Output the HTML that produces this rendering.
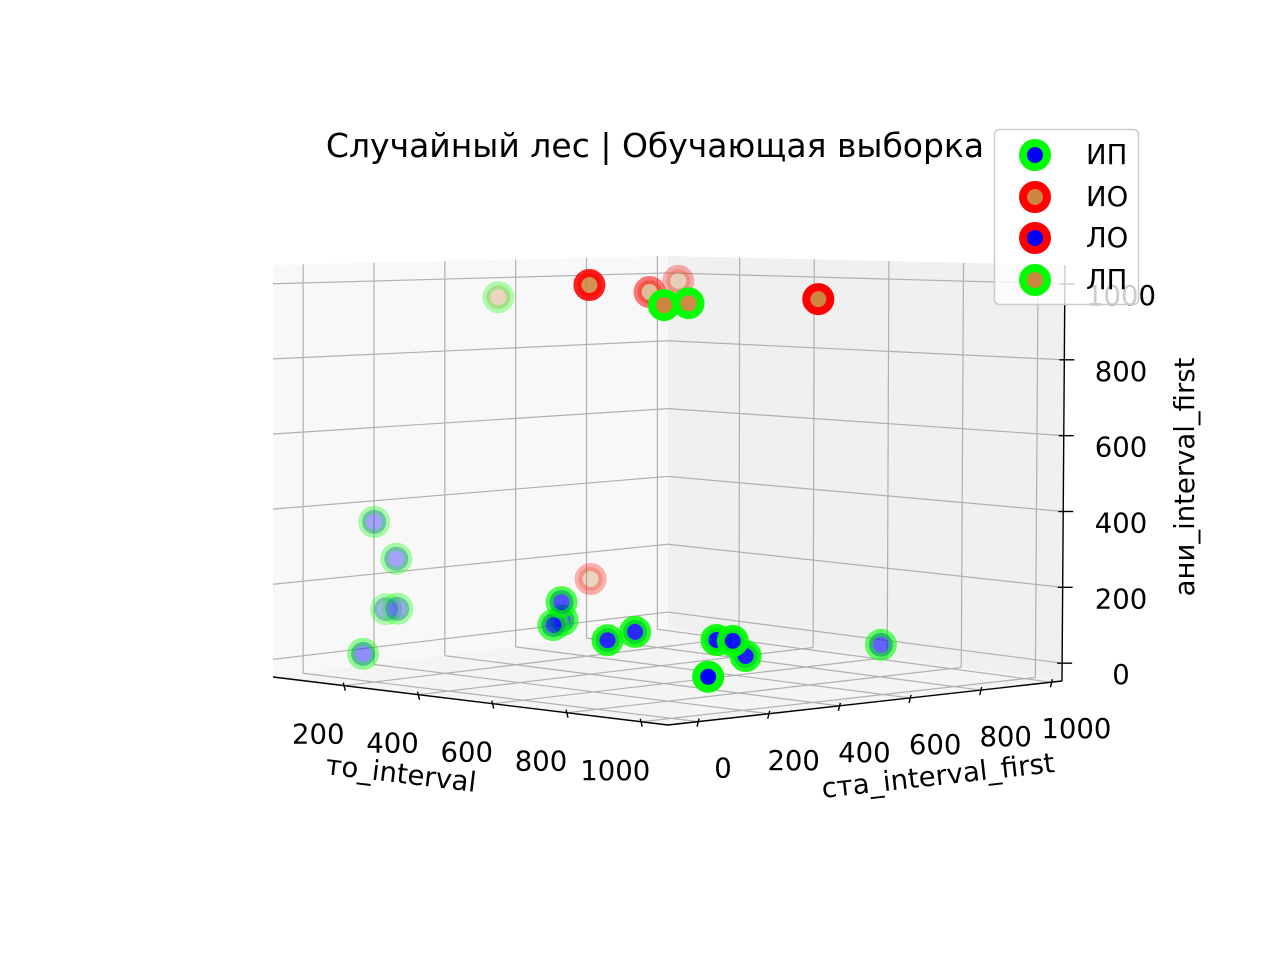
<!DOCTYPE html>
<html>
<head>
<meta charset="utf-8">
<style>
  html, body { margin:0; padding:0; background:#ffffff; }
  svg { display:block; font-family:"DejaVu Sans","Liberation Sans",sans-serif; }
</style>
</head>
<body>
<svg id="chart" width="1280" height="960" viewBox="0 0 1280 960" xmlns="http://www.w3.org/2000/svg">
  <rect x="0" y="0" width="1280" height="960" fill="#ffffff"/>
  <g id="panes"></g>
  <g id="grid"></g>
  <g id="axes"></g>
  <g id="points"></g>
  <g id="labels"></g>
  <text x="655" y="157" font-size="33" text-anchor="middle" fill="#000">Случайный лес | Обучающая выборка</text>
  <text x="0" y="0" font-size="27.5" text-anchor="middle" dominant-baseline="central" fill="#000" transform="translate(401,774) rotate(6.8)">то_interval</text>
  <text x="0" y="0" font-size="27.5" text-anchor="middle" dominant-baseline="central" fill="#000" transform="translate(938,776) rotate(-6.4)">ста_interval_first</text>
  <text x="0" y="0" font-size="27.5" text-anchor="middle" dominant-baseline="central" fill="#000" transform="translate(1185,477) rotate(-90)">ани_interval_first</text>
  <g id="legend"></g>
</svg>
<script>
// ---- data ----
const pointX = [98, 591, 513, 446, 797, 804, 952, 38, 68, 27, 69, 76, 329, 503, 504, 492, 671, 708, 871, 893, 884, 913, 880];
const pointY = [456, 192, 445, 597, 185, 247, 458, 169, 200, 214, 202, 98, 475, 210, 212, 199, 164, 203, 262, 285, 331, 195, 718];
const pointZ = [953, 1025, 990, 1010, 985, 987, 993, 348, 248, 105, 112, 2, 195, 178, 130, 117, 101, 123, 114, 112, 67, 30, 57];
const pointClass = ['ЛП','ИО','ИО','ИО','ЛП','ЛП','ИО','ИП','ИП','ИП','ИП','ИП','ИО','ИП','ИП','ИП','ИП','ИП','ИП','ИП','ИП','ИП','ИП'];
const classNames = ['ИП','ИО','ЛО','ЛП'];
const xTicks = [200, 400, 600, 800, 1000];
const yTicks = [0, 200, 400, 600, 800, 1000];
const zTicks = [0, 200, 400, 600, 800, 1000];

// ---- styles / geometry ----
const classEdge = {'ИП':'#00ff00','ИО':'#ff0000','ЛО':'#ff0000','ЛП':'#00ff00'};
const classFace = {'ИП':'#0000ff','ИО':'#cd853f','ЛО':'#0000ff','ЛП':'#cd853f'};
const XMIN=8, XMAX=1072, YMIN=-85, YMAX=1030, ZMIN=-47, ZMAX=1050;
const FLOOR = {L:[273,677], F:[668,725], R:[1062,681], B:[668,628]};
const TOP   = {L:[273,265], F:[672,293], R:[1065,265], B:[668,256]};
const NS = 'http://www.w3.org/2000/svg';

function bil(c,u,v){
  return [
    c.L[0]*(1-u)*(1-v)+c.F[0]*u*(1-v)+c.R[0]*u*v+c.B[0]*(1-u)*v,
    c.L[1]*(1-u)*(1-v)+c.F[1]*u*(1-v)+c.R[1]*u*v+c.B[1]*(1-u)*v
  ];
}
function uOf(x){ return (x-XMIN)/(XMAX-XMIN); }
function vOf(y){ return (y-YMIN)/(YMAX-YMIN); }
function wOf(z){ return (z-ZMIN)/(ZMAX-ZMIN); }
function projUVW(u,v,w){
  const f=bil(FLOOR,u,v), t=bil(TOP,u,v);
  return [f[0]+w*(t[0]-f[0]), f[1]+w*(t[1]-f[1])];
}
function proj(x,y,z){ return projUVW(uOf(x),vOf(y),wOf(z)); }

function mk(tag, attrs, parent){
  const e=document.createElementNS(NS,tag);
  for(const k in attrs) e.setAttribute(k,attrs[k]);
  parent.appendChild(e);
  return e;
}
function poly(pts){ return pts.map(p=>p[0].toFixed(1)+','+p[1].toFixed(1)).join(' '); }

// ---- panes ----
const panes=document.getElementById('panes');
let e;
e=mk('polygon',{points:poly([projUVW(0,0,0),projUVW(0,1,0),projUVW(0,1,1),projUVW(0,0,1)]),fill:'#f8f8f8'},panes);


e=mk('polygon',{points:poly([projUVW(0,1,0),projUVW(1,1,0),projUVW(1,1,1),projUVW(0,1,1)]),fill:'#f0f0f0'},panes);


e=mk('polygon',{points:poly([projUVW(0,0,0),projUVW(1,0,0),projUVW(1,1,0),projUVW(0,1,0)]),fill:'#f4f4f4'},panes);



// ---- grid ----
const grid=document.getElementById('grid');
function gline(a,b,name){
  const l=mk('line',{x1:a[0],y1:a[1],x2:b[0],y2:b[1],stroke:'#b0b0b0','stroke-width':1.2},grid);
  
  
}
xTicks.forEach(x=>{
  gline(projUVW(uOf(x),0,0),projUVW(uOf(x),1,0),'floor-grid-x');
  gline(projUVW(uOf(x),1,0),projUVW(uOf(x),1,1),'back-grid-x');
});
yTicks.forEach(y=>{
  gline(projUVW(0,vOf(y),0),projUVW(1,vOf(y),0),'floor-grid-y');
  gline(projUVW(0,vOf(y),0),projUVW(0,vOf(y),1),'left-grid-y');
});
zTicks.forEach(z=>{
  gline(projUVW(0,0,wOf(z)),projUVW(0,1,wOf(z)),'left-grid-z');
  gline(projUVW(0,1,wOf(z)),projUVW(1,1,wOf(z)),'back-grid-z');
});

// ---- axis lines & ticks ----
const axes=document.getElementById('axes');
function aline(a,b,name,w){
  const l=mk('line',{x1:a[0],y1:a[1],x2:b[0],y2:b[1],stroke:'#000','stroke-width':w||1.4},axes);
  
  
}
aline(projUVW(0,0,0),projUVW(1,0,0),'x-axis-line');
aline(projUVW(1,0,0),projUVW(1,1,0),'y-axis-line');
aline(projUVW(1,1,0),projUVW(1,1,1),'z-axis-line');

const labels=document.getElementById('labels');
function tlabel(x,y,txt,name,anchor){
  const t=mk('text',{x:x.toFixed(1),y:y.toFixed(1),'font-size':27.5,'text-anchor':anchor||'middle','dominant-baseline':'central',fill:'#000'},labels);
  t.textContent=txt;
  
  
}
xTicks.forEach(x=>{
  const p=projUVW(uOf(x),0,0);
  aline([p[0]-1,p[1]-3],[p[0]+1,p[1]+5],'x-tick',1.4);
  tlabel(p[0]-26,p[1]+49,String(x),'x-tick-label');
});
yTicks.forEach(y=>{
  const p=projUVW(1,vOf(y),0);
  aline([p[0]+1,p[1]-3],[p[0]-1,p[1]+5],'y-tick',1.4);
  tlabel(p[0]+25,p[1]+47,String(y),'y-tick-label');
});
zTicks.forEach(z=>{
  const p=projUVW(1,1,wOf(z));
  aline([p[0]-5,p[1]],[p[0]+10,p[1]],'z-tick',1.4);
  tlabel(1121,p[1]+12,String(z),'z-tick-label');
});

// ---- points ----
const ptsG=document.getElementById('points');
const depth=pointX.map((x,i)=>uOf(x)-vOf(pointY[i]));
const dMin={}, dMax={};
pointClass.forEach((c,i)=>{
  dMin[c]=Math.min(dMin[c]===undefined?Infinity:dMin[c],depth[i]);
  dMax[c]=Math.max(dMax[c]===undefined?-Infinity:dMax[c],depth[i]);
});
const order=pointX.map((_,i)=>i).sort((a,b)=>depth[a]-depth[b]);
order.forEach(i=>{
  const c=pointClass[i];
  const p=proj(pointX[i],pointY[i],pointZ[i]);
  const rng=dMax[c]-dMin[c];
  const alpha=rng>0?1-0.7*(dMax[c]-depth[i])/rng:1;
  const cir=mk('circle',{cx:p[0].toFixed(1),cy:p[1].toFixed(1),r:12,fill:classFace[c],'fill-opacity':alpha.toFixed(3),stroke:classEdge[c],'stroke-opacity':alpha.toFixed(3),'stroke-width':8},ptsG);
  
  
});

// ---- legend ----
const lg=document.getElementById('legend');
e=mk('rect',{x:994.5,y:129.5,width:144,height:175,rx:5,fill:'#ffffff','fill-opacity':0.8,stroke:'#cccccc','stroke-width':1.5},lg);


const legendY=[155,197,238,280];
classNames.forEach((c,k)=>{
  const m=mk('circle',{cx:1035,cy:legendY[k],r:12,fill:classFace[c],stroke:classEdge[c],'stroke-width':8},lg);
  
  
  const t=mk('text',{x:1086,y:legendY[k],'font-size':27.5,'dominant-baseline':'central',fill:'#000'},lg);
  t.textContent=c;
  
  
});
</script>
</body>
</html>
